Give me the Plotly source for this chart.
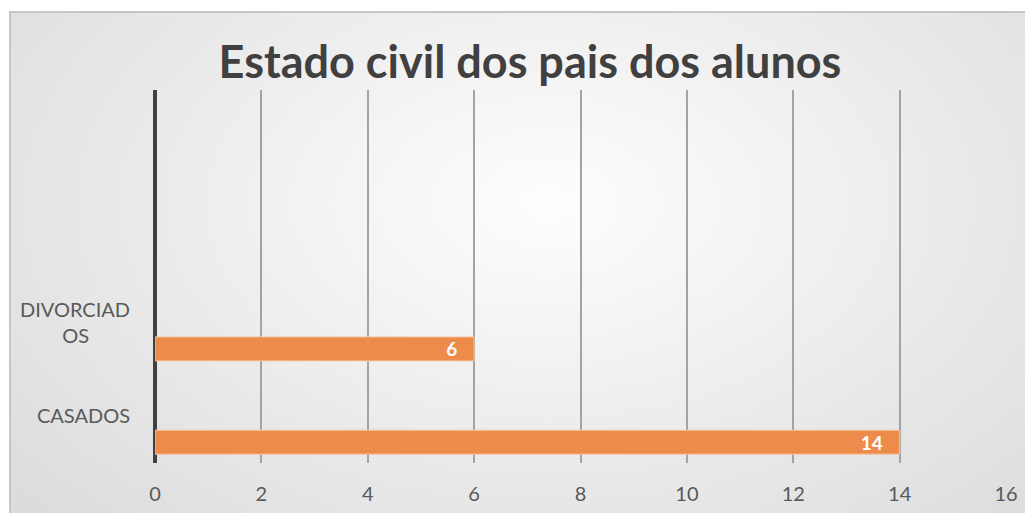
import base64
import struct
import zlib

import plotly.graph_objects as go

# ---------------- data ----------------
categories = ["CASADOS", "DIVORCIADOS"]
tick_labels = ["CASADOS", "DIVORCIAD<br>" + "OS" + "\u00a0" * 8]
values = [14, 6]
x_ticks = [0, 2, 4, 6, 8, 10, 12, 14, 16]
title_text = "Estado civil dos pais dos alunos"


# ---------------- background gradient (style) ----------------
def radial_png(w, h):
    rows = []
    cx, cy = 0.53, 0.38
    for j in range(h):
        row = bytearray([0])
        for i in range(w):
            dx = (i / (w - 1) - cx) / 0.66
            dy = (j / (h - 1) - cy) / 0.85
            d = min((dx * dx + dy * dy) ** 0.5, 1.3)
            v = int(round(254 - 32 * d))
            row += bytes([v, v, v])
        rows.append(bytes(row))
    raw = b"".join(rows)

    def chunk(t, data):
        c = struct.pack(">I", len(data)) + t + data
        return c + struct.pack(">I", zlib.crc32(t + data) & 0xFFFFFFFF)

    png = b"\x89PNG\r\n\x1a\n"
    png += chunk(b"IHDR", struct.pack(">IIBBBBB", w, h, 8, 2, 0, 0, 0))
    png += chunk(b"IDAT", zlib.compress(raw, 9))
    png += chunk(b"IEND", b"")
    return "data:image/png;base64," + base64.b64encode(png).decode()


W, H = 1025, 513
ML, MR, MT, MB = 155, 19, 90, 50
PW, PH = W - ML - MR, H - MT - MB


def px_x(p):
    return (p - ML) / PW


def px_y(p):
    return (H - MB - p) / PH


fig = go.Figure()
fig.add_trace(
    go.Bar(
        y=categories,
        x=values,
        orientation="h",
        width=0.257,
        offset=-0.405,
        marker=dict(color="#ED8B4B", line=dict(color="#F6C7A3", width=1)),
        texttemplate="%{x}\u00a0\u00a0\u00a0",
        textposition="inside",
        insidetextanchor="end",
        textangle=0,
        constraintext="none",
        textfont=dict(family="Lato", size=19, color="white", weight="bold"),
        hoverinfo="x+y",
    )
)

fig.update_layout(
    width=W,
    height=H,
    margin=dict(l=ML, r=MR, t=MT, b=MB, pad=0, autoexpand=False),
    paper_bgcolor="white",
    plot_bgcolor="rgba(0,0,0,0)",
    showlegend=False,
    title=dict(
        text="<b>" + title_text + "</b>",
        x=530 / W,
        xanchor="center",
        y=1 - 62 / H,
        yanchor="middle",
        font=dict(family="Lato", size=45, color="#404040"),
    ),
    xaxis=dict(
        range=[0, 16],
        tickvals=x_ticks,
        showgrid=True,
        gridcolor="#a3a3a3",
        gridwidth=2,
        zeroline=True,
        zerolinecolor="#404040",
        zerolinewidth=4,
        showline=False,
        ticks="",
        automargin=False,
        ticklabelstandoff=17,
        tickfont=dict(family="Lato", size=20, color="#595959"),
        fixedrange=True,
    ),
    yaxis=dict(
        type="category",
        categoryorder="array",
        categoryarray=categories,
        tickvals=categories,
        ticktext=tick_labels,
        range=[-0.5, 3.5],
        showgrid=False,
        zeroline=False,
        showline=False,
        ticks="",
        automargin=False,
        ticklabelstandoff=24,
        tickfont=dict(family="Lato", size=20, color="#595959"),
        fixedrange=True,
    ),
    images=[
        dict(
            source=radial_png(205, 100),
            xref="paper",
            yref="paper",
            x=px_x(10),
            y=px_y(12),
            sizex=(W - 10) / PW,
            sizey=(H - 12) / PH,
            xanchor="left",
            yanchor="top",
            sizing="stretch",
            layer="below",
        )
    ],
    shapes=[
        dict(
            type="rect",
            xref="paper",
            yref="paper",
            x0=px_x(10),
            x1=px_x(W + 10),
            y0=px_y(H + 10),
            y1=px_y(12),
            line=dict(color="#c6c6c6", width=2),
            fillcolor="rgba(0,0,0,0)",
            layer="below",
        )
    ],
)

fig.write_html(
    "out.html",
    config={"displayModeBar": False},
    post_script="document.body.style.margin='0';document.body.style.overflow='hidden';",
)
